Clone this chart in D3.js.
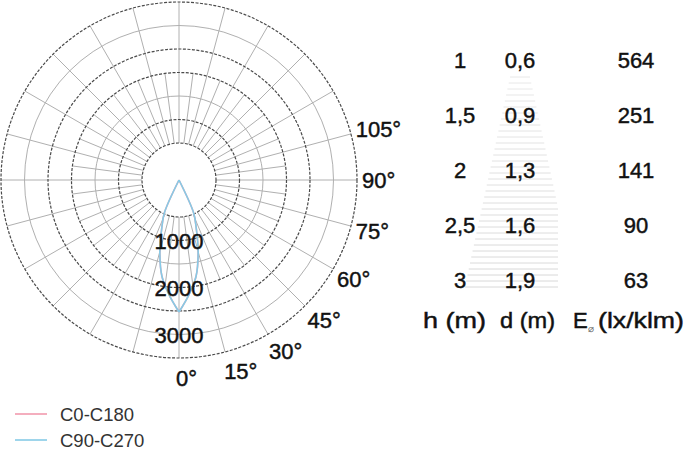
<!DOCTYPE html>
<html>
<head>
<meta charset="utf-8">
<script src="https://cdn.jsdelivr.net/npm/d3@7/dist/d3.min.js"></script>
<style>
  html, body { margin: 0; padding: 0; background: #fff; }
  svg { display: block; }
  text { font-family: "Liberation Sans", Arial, sans-serif; }
  .bold { stroke: #111; stroke-width: 0.45px; }
</style>
</head>
<body>
<div id="chart"></div>
<script>
// ---------- data ----------
const seriesNames = ["C0-C180", "C90-C270"];
const curveAngles = [0, 5, 10, 15, 20, 24, 25];           // degrees from nadir
const c0c180 = [2595, 2261, 1927, 1455, 983, 708, 0];     // cd/klm
const c90c270 = [2595, 2261, 1927, 1455, 983, 708, 0];    // cd/klm
const ringValues = [500, 1000, 1500, 2000, 2500, 3000, 3500];
const ringLabelValues = [1000, 2000, 3000];
const angleTicks = [0, 15, 30, 45, 60, 75, 90, 105];

const heights = [1, 1.5, 2, 2.5, 3];          // h (m)
const diameters = [0.6, 0.9, 1.3, 1.6, 1.9];  // d (m)
const illuminance = [564, 251, 141, 90, 63];  // E (lx/klm)

// ---------- setup ----------
const W = 686, H = 450;
const svg = d3.select("#chart").append("svg").attr("width", W).attr("height", H);
svg.append("rect").attr("width", W).attr("height", H).attr("fill", "#fff");

const cx = 179, cy = 180;
const ringScale = d3.scaleLinear().domain([500, 3500]).range([37, 178]);
const curveScale = d3.scaleLinear().domain([0, 3500]).range([0, 178]);
const rad = d => d * Math.PI / 180;

const g = svg.append("g").attr("transform", `translate(${cx},${cy})`);

// spokes
const rIn = ringScale(500), rOut = ringScale(3500), rMid = ringScale(2000);
const spokes = [];
for (let a = 0; a < 360; a += 15) spokes.push({a, r0: rIn, r1: rOut});
for (let a = 7.5; a < 360; a += 15) spokes.push({a, r0: rIn, r1: rMid});
g.selectAll("line.spoke").data(spokes).join("line")
  .attr("class", "spoke")
  .attr("x1", d => d.r0 * Math.sin(rad(d.a)))
  .attr("y1", d => d.r0 * Math.cos(rad(d.a)))
  .attr("x2", d => d.r1 * Math.sin(rad(d.a)))
  .attr("y2", d => d.r1 * Math.cos(rad(d.a)))
  .attr("stroke", "#b0b0b0").attr("stroke-width", 1);

// rings
const dashedRings = new Set([500, 1000, 2000, 2500, 3500]);
g.selectAll("circle.ring").data(ringValues).join("circle")
  .attr("class", "ring")
  .attr("r", d => ringScale(d))
  .attr("fill", "none")
  .attr("stroke", d => dashedRings.has(d) ? "#4a4a4a" : "#b0b0b0")
  .attr("stroke-width", d => dashedRings.has(d) ? 1.2 : 1)
  .attr("stroke-dasharray", d => dashedRings.has(d) ? "3,1.5" : null);

// curves
const lineGen = d3.lineRadial()
  .angle(d => Math.PI - rad(d[0]))
  .radius(d => curveScale(d[1]))
  .curve(d3.curveCatmullRom);
const seriesColors = ["#f29aae", "#86cbe6"];
[c0c180, c90c270].forEach((vals, si) => {
  [1, -1].forEach(side => {
    const pts = curveAngles.map((a, i) => [side * a, vals[i]]);
    g.append("path").attr("d", lineGen(pts))
      .attr("fill", "none").attr("stroke", seriesColors[si]).attr("stroke-width", 1.6);
  });
});

// ring labels
g.selectAll("text.rlab").data(ringLabelValues).join("text")
  .attr("class", "rlab bold")
  .attr("x", 0)
  .attr("y", d => ringScale(d) + 8)
  .attr("text-anchor", "middle")
  .attr("font-size", 22)
  .attr("fill", "#111")
  .text(d => d);

// angle labels
g.selectAll("text.alab").data(angleTicks).join("text")
  .attr("class", "alab bold")
  .attr("x", d => 186 * Math.sin(rad(d)) - 3)
  .attr("y", d => 186 * Math.cos(rad(d)) + 12 * Math.cos(rad(d)) + 8)
  .attr("font-size", 22)
  .attr("fill", "#111")
  .text(d => d + "°");

// legend
const leg = svg.append("g");
seriesNames.forEach((n, i) => {
  const y = 414 + i * 26;
  leg.append("line").attr("x1", 15).attr("x2", 47).attr("y1", y).attr("y2", y)
    .attr("stroke", seriesColors[i]).attr("stroke-width", 1.6);
  leg.append("text").attr("x", 60).attr("y", y + 6.5).attr("font-size", 18.5)
    .attr("fill", "#333").text(n);
});

// ---------- table ----------
const rowY = d3.scaleLinear().domain([0, heights.length - 1]).range([60, 280]);
const fmt = v => String(v).replace(".", ",");

// cone decoration
const cone = svg.append("g");
for (let y = 77; y <= 290; y += 6) {
  const hw = 10 + (y - 77) * 0.215;
  cone.append("line")
    .attr("x1", 520 - hw).attr("x2", Math.min(520 + hw, 558))
    .attr("y1", y).attr("y2", y)
    .attr("stroke", "#d8d8d8").attr("stroke-width", 1)
    .attr("opacity", 0.55 + 0.45 * (y - 77) / 213);
}

const tbl = svg.append("g").attr("font-size", 22).attr("fill", "#111");
const cols = [
  {x: 460, vals: heights.map(fmt)},
  {x: 520, vals: diameters.map(fmt)},
  {x: 636, vals: illuminance.map(String)}
];
cols.forEach(c => {
  tbl.selectAll(null).data(c.vals).join("text")
    .attr("class", "bold")
    .attr("x", c.x).attr("y", (d, i) => rowY(i) + 8)
    .attr("text-anchor", "middle").attr("fill", "#111")
    .text(d => d);
});

// headers
tbl.append("text").attr("class", "bold").attr("x", 423).attr("y", 328).attr("textLength", 63)
  .attr("lengthAdjust", "spacingAndGlyphs").text("h (m)");
tbl.append("text").attr("class", "bold").attr("x", 500).attr("y", 328).attr("textLength", 55)
  .attr("lengthAdjust", "spacingAndGlyphs").text("d (m)");
tbl.append("text").attr("class", "bold").attr("x", 573).attr("y", 328).text("E");
tbl.append("text").attr("x", 588).attr("y", 332).attr("font-size", 10).attr("fill", "#666").text("⌀");
tbl.append("text").attr("class", "bold").attr("x", 598).attr("y", 328).attr("textLength", 86)
  .attr("lengthAdjust", "spacingAndGlyphs").text("(lx/klm)");
</script>
</body>
</html>
